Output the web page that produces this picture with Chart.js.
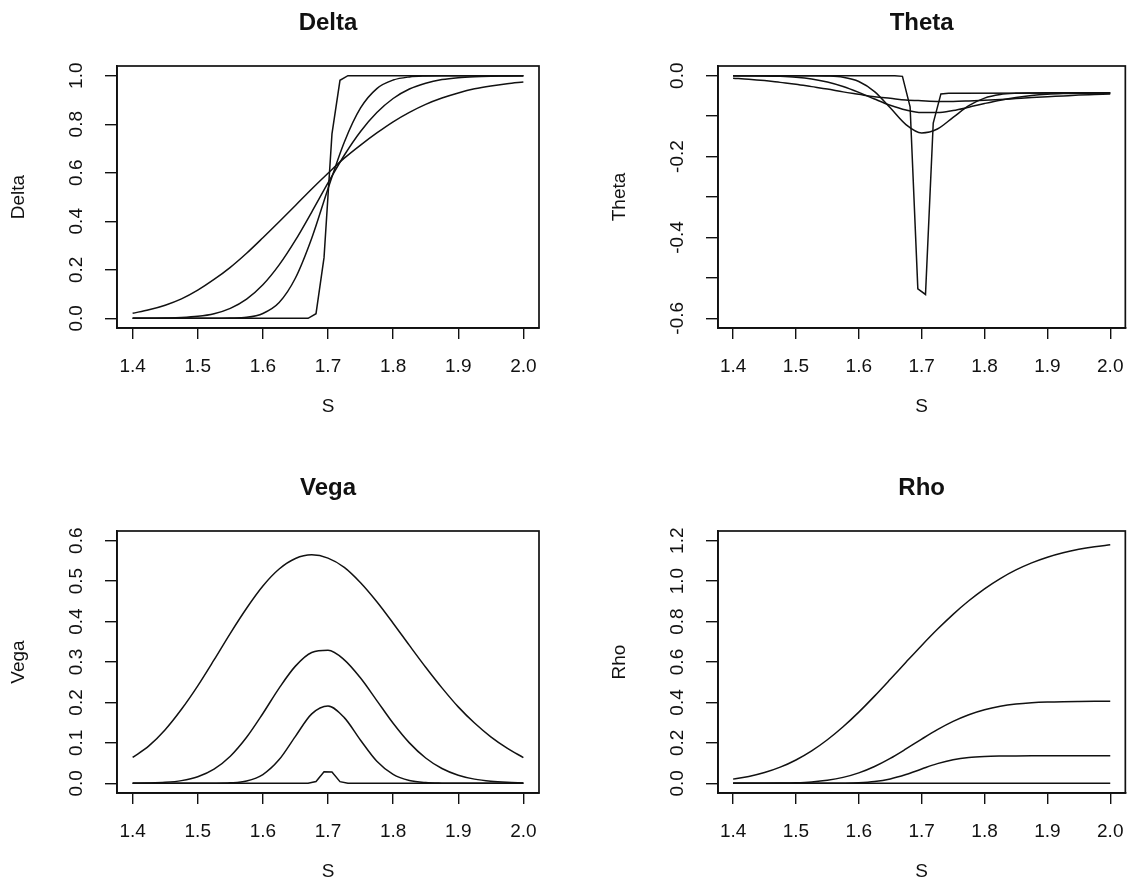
<!DOCTYPE html>
<html>
<head>
<meta charset="utf-8">
<script src="https://cdn.jsdelivr.net/npm/chart.js@4.4.1/dist/chart.umd.min.js"></script>
<style>
  html, body { margin: 0; padding: 0; background: #fff; overflow: hidden; }
  #wrap { position: relative; width: 1140px; height: 879px; overflow: hidden; }
  canvas { position: absolute; }
</style>
</head>
<body>
<div id="wrap">
  <canvas id="delta" width="570" height="440" style="left:0;top:0"></canvas>
  <canvas id="theta" width="570" height="440" style="left:570px;top:0"></canvas>
  <canvas id="vega" width="570" height="440" style="left:0;top:465px"></canvas>
  <canvas id="rho" width="570" height="440" style="left:570px;top:465px"></canvas>
</div>
<script>
// underlying price S
var sGrid = [1.4, 1.425, 1.45, 1.475, 1.5, 1.525, 1.55, 1.575, 1.6, 1.625, 1.65, 1.675, 1.7,
             1.725, 1.75, 1.775, 1.8, 1.825, 1.85, 1.875, 1.9, 1.925, 1.95, 1.975, 2.0];
var sFine = [1.4, 1.6571, 1.6694, 1.6816, 1.6939, 1.7061, 1.7184, 1.7306, 1.7429, 2.0];
var xTicks = [1.4, 1.5, 1.6, 1.7, 1.8, 1.9, 2.0];

// Delta
var deltaA = [0.021, 0.035, 0.054, 0.08, 0.116, 0.16, 0.21, 0.268, 0.332, 0.398, 0.465, 0.533, 0.598,
              0.66, 0.714, 0.764, 0.81, 0.849, 0.882, 0.908, 0.929, 0.946, 0.958, 0.967, 0.974];
var deltaB = [0, 0, 0.001, 0.003, 0.008, 0.019, 0.041, 0.079, 0.138, 0.22, 0.322, 0.438, 0.558,
              0.672, 0.77, 0.848, 0.906, 0.945, 0.969, 0.984, 0.992, 0.996, 0.998, 0.999, 1.0];
var deltaC = [0, 0, 0, 0, 0, 0, 0.001, 0.004, 0.02, 0.065, 0.166, 0.33, 0.534,
              0.726, 0.867, 0.947, 0.982, 0.995, 0.999, 1, 1, 1, 1, 1, 1];
var deltaD = [0, 0, 0, 0.019, 0.25, 0.76, 0.981, 1.0, 1.0, 1.0];
var deltaTicks = [0, 0.2, 0.4, 0.6, 0.8, 1.0];
var deltaLabels = ["0.0", "0.2", "0.4", "0.6", "0.8", "1.0"];

// Theta
var thetaA = [-0.006, -0.0085, -0.012, -0.0165, -0.021, -0.027, -0.033, -0.04, -0.046, -0.052, -0.056, -0.06, -0.062,
              -0.0635, -0.0635, -0.0625, -0.061, -0.059, -0.0565, -0.054, -0.052, -0.05, -0.048, -0.0465, -0.045];
var thetaB = [0, -0.0002, -0.0005, -0.0015, -0.0037, -0.008, -0.0155, -0.0267, -0.0413, -0.0577, -0.0732, -0.085, -0.0912,
              -0.0912, -0.0861, -0.0779, -0.0688, -0.0605, -0.0539, -0.0491, -0.046, -0.0442, -0.0432, -0.0427, -0.0425];
var thetaC = [0, 0, 0, 0, 0, -0.0001, -0.0007, -0.0038, -0.0143, -0.0393, -0.0794, -0.1209, -0.1416,
              -0.1319, -0.1031, -0.0742, -0.0554, -0.0466, -0.0435, -0.0427, -0.0424, -0.0424, -0.0424, -0.0424, -0.0424];
var thetaD = [0, 0, -0.0016, -0.077, -0.527, -0.541, -0.117, -0.045, -0.0435, -0.0425];
var thetaTicks = [0, -0.1, -0.2, -0.3, -0.4, -0.5, -0.6];
var thetaLabels = ["0.0", "", "-0.2", "", "-0.4", "", "-0.6"];

// Vega
var vegaA = [0.064, 0.0925, 0.1325, 0.183, 0.241, 0.305, 0.371, 0.433, 0.488, 0.53, 0.556, 0.565, 0.557,
             0.534, 0.496, 0.449, 0.396, 0.341, 0.287, 0.236, 0.189, 0.149, 0.115, 0.087, 0.0635];
var vegaB = [0.0002, 0.0007, 0.0023, 0.0066, 0.0162, 0.035, 0.0669, 0.1137, 0.1726, 0.2355, 0.2898, 0.3235, 0.3288,
             0.3054, 0.2604, 0.2046, 0.1485, 0.1, 0.0626, 0.0366, 0.02, 0.0103, 0.005, 0.0023, 0.001];
var vegaC = [0, 0, 0, 0, 0, 0.0001, 0.0011, 0.0058, 0.0217, 0.0586, 0.1162, 0.1716, 0.1911,
             0.1624, 0.1066, 0.0547, 0.0221, 0.0071, 0.0018, 0.0004, 0.0001, 0, 0, 0, 0];
var vegaD = [0, 0, 0.0001, 0.0042, 0.0283, 0.0278, 0.0041, 0.0001, 0, 0];
var vegaTicks = [0, 0.1, 0.2, 0.3, 0.4, 0.5, 0.6];
var vegaLabels = ["0.0", "0.1", "0.2", "0.3", "0.4", "0.5", "0.6"];

// Rho
var rhoA = [0.0206, 0.0338, 0.0531, 0.0798, 0.1154, 0.1605, 0.2154, 0.2797, 0.3522, 0.4312, 0.5142, 0.5986, 0.6819,
            0.7616, 0.8358, 0.9028, 0.9621, 1.0128, 1.0555, 1.0905, 1.1185, 1.1405, 1.1574, 1.1701, 1.1796];
var rhoB = [0, 0.0001, 0.0003, 0.0011, 0.0028, 0.0069, 0.015, 0.0292, 0.0516, 0.0833, 0.1235, 0.1699, 0.2186,
            0.2652, 0.3061, 0.3392, 0.3638, 0.3808, 0.3918, 0.3983, 0.402, 0.4039, 0.4048, 0.4053, 0.4055];
var rhoC = [0, 0, 0, 0, 0, 0, 0, 0.0005, 0.0025, 0.0084, 0.0216, 0.0434, 0.0709,
            0.0972, 0.1167, 0.128, 0.1331, 0.135, 0.1355, 0.1357, 0.1357, 0.1357, 0.1357, 0.1357, 0.1357];
var rhoD = [0, 0, 0, 0, 0.0001, 0.0002, 0.0003, 0.0003, 0.0003, 0.0003];
var rhoTicks = [0, 0.2, 0.4, 0.6, 0.8, 1.0, 1.2];
var rhoLabels = ["0.0", "0.2", "0.4", "0.6", "0.8", "1.0", "1.2"];

var ink = '#111';
var fontFam = '"Liberation Sans", Arial, Helvetica, sans-serif';
Chart.defaults.font.family = fontFam;
Chart.defaults.color = ink;

// R-style box and rotated y tick labels
var rFrame = {
  id: 'rFrame',
  afterDraw: function(chart, args, opts) {
    var ctx = chart.ctx, a = chart.chartArea, y = chart.scales.y;
    ctx.save();
    ctx.strokeStyle = ink;
    ctx.lineWidth = 1.7;
    ctx.strokeRect(a.left, a.top, a.right - a.left, a.bottom - a.top);
    ctx.fillStyle = ink;
    ctx.font = '19px ' + fontFam;
    ctx.textAlign = 'center';
    ctx.textBaseline = 'middle';
    y.ticks.forEach(function(t, i) {
      var txt = opts.labels[i];
      if (!txt) return;
      ctx.save();
      ctx.translate(a.left - 40, y.getPixelForValue(t.value));
      ctx.rotate(-Math.PI / 2);
      ctx.fillText(txt, 0, 0);
      ctx.restore();
    });
    ctx.restore();
  }
};

function line(xs, ys, smooth) {
  return {
    data: xs.map(function(x, i) { return {x: x, y: ys[i]}; }),
    borderColor: ink,
    borderWidth: 1.5,
    pointRadius: 0,
    fill: false,
    tension: 0,
    cubicInterpolationMode: smooth ? 'monotone' : 'default'
  };
}

function makePanel(id, title, yMin, yMax, yTicks, yLabels, ys, leftPad, rightPad) {
  new Chart(document.getElementById(id), {
    type: 'line',
    data: {
      datasets: [
        line(sGrid, ys[0], true),
        line(sGrid, ys[1], true),
        line(sGrid, ys[2], true),
        line(sFine, ys[3], false)
      ]
    },
    options: {
      responsive: false,
      animation: false,
      devicePixelRatio: 1,
      layout: { padding: { left: leftPad, right: rightPad, top: 0, bottom: 22 } },
      plugins: {
        legend: { display: false },
        tooltip: { enabled: false },
        title: {
          display: true, text: title, fullSize: false, color: ink,
          font: { size: 24, weight: 'bold' },
          padding: { top: 9.1, bottom: 28.1 }
        },
        rFrame: { labels: yLabels }
      },
      scales: {
        x: {
          type: 'linear', min: 1.376, max: 2.024,
          afterBuildTicks: function(ax) { ax.ticks = xTicks.map(function(v) { return {value: v}; }); },
          afterFit: function(ax) { ax.height = 90; },
          grid: { drawOnChartArea: false, drawTicks: true, tickLength: 11, color: ink, lineWidth: 1.4 },
          border: { display: true, color: ink, width: 1.7 },
          ticks: {
            font: { size: 19 }, color: ink, padding: 16, maxRotation: 0, autoSkip: false,
            callback: function(v) { return v.toFixed(1); }
          },
          title: { display: true, text: 'S', font: { size: 19 }, color: ink, padding: { top: 0, bottom: 0 } }
        },
        y: {
          type: 'linear', min: yMin, max: yMax,
          afterBuildTicks: function(ax) { ax.ticks = yTicks.map(function(v) { return {value: v}; }); },
          afterFit: function(ax) { ax.width = 117; },
          grid: { drawOnChartArea: false, drawTicks: true, tickLength: 12, color: ink, lineWidth: 1.4 },
          border: { display: true, color: ink, width: 1.7 },
          ticks: { display: false },
          title: { display: true, text: title, font: { size: 19 }, color: ink, padding: { top: 7, bottom: 0 } }
        }
      }
    },
    plugins: [rFrame]
  });
}

makePanel('delta', 'Delta', -0.04, 1.04, deltaTicks, deltaLabels, [deltaA, deltaB, deltaC, deltaD], 0, 31);
makePanel('theta', 'Theta', -0.624, 0.024, thetaTicks, thetaLabels, [thetaA, thetaB, thetaC, thetaD], 31, 2);
makePanel('vega', 'Vega', -0.024, 0.624, vegaTicks, vegaLabels, [vegaA, vegaB, vegaC, vegaD], 0, 31);
makePanel('rho', 'Rho', -0.048, 1.248, rhoTicks, rhoLabels, [rhoA, rhoB, rhoC, rhoD], 31, 2);
</script>
</body>
</html>
